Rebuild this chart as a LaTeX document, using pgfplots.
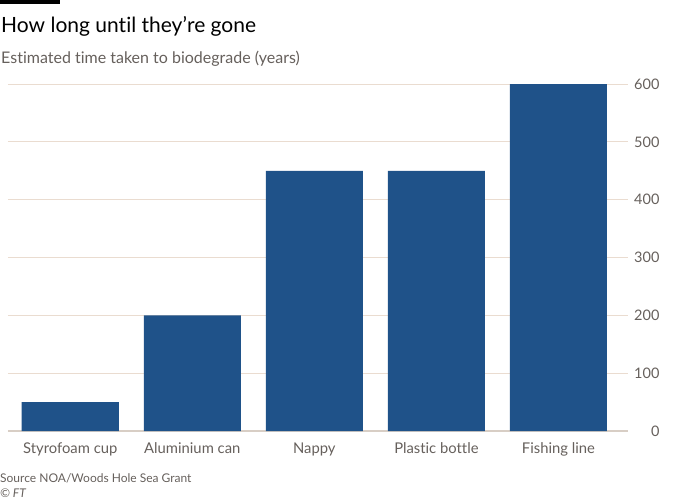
\documentclass[border=0pt]{standalone}
\usepackage{fontspec}
\setmainfont{Lato}[Ligatures=NoCommon]
\usepackage{pgfplots}
\pgfplotsset{compat=1.18}
\definecolor{barblue}{HTML}{1F5289}
\definecolor{gridc}{HTML}{EADCD0}
\definecolor{basec}{HTML}{D8CEC5}
\definecolor{txtgrey}{HTML}{66605C}
\begin{document}
\begin{tikzpicture}
\path[use as bounding box] (-8pt,-69pt) rectangle (692pt,431pt);
\fill[black] (-8pt,427pt) rectangle (52pt,431pt);
\node[anchor=base west, inner sep=0pt, font=\fontsize{21}{25}\selectfont, text=black] at (-7pt,398pt) {How long until they’re gone};
\node[anchor=base west, inner sep=0pt, font=\fontsize{16}{19}\selectfont, text=txtgrey] at (-7pt,367pt) {Estimated time taken to biodegrade (years)};
\node[anchor=base west, inner sep=0pt, font=\fontsize{12}{14}\selectfont, text=txtgrey] at (-8pt,-51pt) {Source NOA/Woods Hole Sea Grant};
\node[anchor=base west, inner sep=0pt, font=\fontsize{12}{14}\selectfont\itshape, text=txtgrey] at (-8pt,-66pt) {© FT};
\begin{axis}[
  at={(0pt,0pt)}, anchor=south west,
  scale only axis, width=620pt, height=347pt,
  xmin=-0.51, xmax=4.57, ymin=0, ymax=600,
  axis line style={draw=none},
  ytick={0,100,...,600},
  ymajorgrids, grid style={color=gridc, line width=0.8pt},
  extra y ticks={0}, extra y tick labels={},
  extra y tick style={grid style={color=basec, line width=1.2pt}},
  xtick={0,1,2,3,4},
  xticklabels={Styrofoam cup, Aluminium can, Nappy, Plastic bottle, Fishing line},
  major tick length=0pt,
  ytick pos=right, yticklabel pos=right,
  yticklabel style={anchor=east, xshift=35pt, font=\fontsize{14.5}{16}\selectfont, text=txtgrey},
  xticklabel style={anchor=base, yshift=-22pt, font=\fontsize{14.8}{16}\selectfont, text=txtgrey},
  /pgf/number format/assume math mode=true,
]
\addplot[ybar, bar width=0.795, fill=barblue, draw=none] coordinates {(0,50) (1,200) (2,450) (3,450) (4,600)};
\end{axis}
\end{tikzpicture}
\end{document}
